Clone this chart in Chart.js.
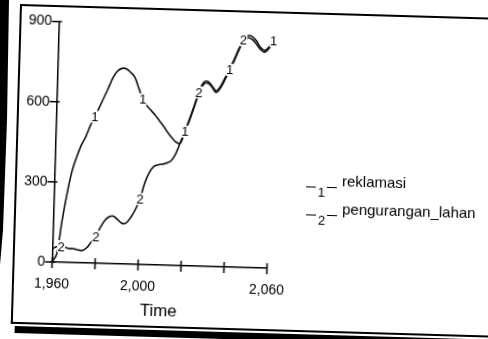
<!DOCTYPE html>
<html>
<head>
<meta charset="utf-8">
<script src="https://cdn.jsdelivr.net/npm/chart.js@4.4.1/dist/chart.umd.min.js"></script>
<style>
  html, body { margin: 0; padding: 0; background: #fff; }
  body { width: 488px; height: 339px; position: relative; overflow: hidden;
         font-family: "Liberation Sans", Arial, sans-serif; }
  #strip { position: absolute; left: 0; top: 0; width: 10px; height: 265px; background: #000;
           clip-path: polygon(1px 0, 9px 0, 7px 120px, 3px 230px, 0 265px, 0 0); }
  #frame { position: absolute; left: 20px; top: 4px; width: 480px; height: 320px;
           transform-origin: 0 0; transform: rotate(1.65deg); }
  .edge { position: absolute; background: #000; }
  #chartBox { position: absolute; left: 0; top: 0; width: 300px; height: 320px; }
  .lg { position: absolute; height: 20px; width: 200px; color: #000; }
  .lg .ln { position: absolute; top: 0; width: 10px; border-top: 1.3px solid #000; }
  .lg .num { position: absolute; top: -1px; font-size: 13px; line-height: 13px; }
  .lg .txt { position: absolute; left: 36px; top: -14px; font-size: 15px; line-height: 15px; white-space: nowrap; }
</style>
</head>
<body>
<div id="strip"></div>
<div id="frame">
  <div class="edge" style="left:0;top:0;width:480px;height:1.8px"></div>
  <div class="edge" style="left:0;top:0;width:1.8px;height:320px"></div>
  <div class="edge" style="left:0;top:318px;width:480px;height:1.8px"></div>
  <div class="edge" style="left:4px;top:322px;width:480px;height:7px"></div>
  <div id="chartBox"><canvas id="lineChart" width="300" height="320"></canvas></div>
  <div class="lg" style="left:291px;top:174px">
    <span class="ln" style="left:0"></span><span class="num" style="left:12px">1</span><span class="ln" style="left:21px"></span>
    <span class="txt">reklamasi</span>
  </div>
  <div class="lg" style="left:292px;top:202px">
    <span class="ln" style="left:0"></span><span class="num" style="left:12px">2</span><span class="ln" style="left:21px"></span>
    <span class="txt">pengurangan_lahan</span>
  </div>
</div>

<script>
// years on the time axis
const years = [1960, 1962, 1964, 1966, 1968, 1970, 1972, 1974, 1976, 1978,
               1980, 1982, 1984, 1986, 1988, 1990, 1992, 1994, 1996, 1998,
               2000, 2002, 2004, 2006, 2008, 2010, 2012, 2014, 2016, 2018,
               2020, 2022, 2024, 2026, 2028, 2030, 2032, 2034, 2036, 2038,
               2040, 2042, 2044, 2046, 2048, 2050, 2052, 2054, 2056, 2058, 2060];

// series 1
const reklamasi = [0, 30, 150, 255, 340, 395, 440, 472, 515, 548,
                   585, 622, 660, 698, 722, 732, 731, 718, 700, 660,
                   618, 595, 578, 560, 540, 520, 498, 478, 462, 458,
                   502, 545, 595, 645, 680, 686, 672, 652, 670, 702,
                   738, 772, 812, 845, 860, 855, 838, 818, 808, 822, 850];

// series 2
const penguranganLahan = [50, 58, 60, 56, 52, 52, 48, 47, 58, 80,
                          100, 135, 162, 176, 178, 165, 152, 155, 176, 205,
                          245, 305, 345, 368, 375, 378, 383, 392, 418, 460,
                          505, 550, 600, 650, 688, 692, 676, 658, 676, 708,
                          742, 778, 818, 850, 868, 866, 850, 826, 815, 828, 855];

// where the series numbers sit on the lines
const markers1 = [1978, 2000, 2020, 2040, 2060];
const markers2 = [1964, 1980, 2000, 2026, 2046];

const xTickValues = [1960, 1980, 2000, 2020, 2040, 2060];
const xTickLabels = ['1,960', '', '2,000', '', '', '2,060'];
const yTickValues = [0, 300, 600, 900];

const font = '"Liberation Sans", Arial, sans-serif';

const toPoints = vals => years.map((t, i) => ({ x: t, y: vals[i] }));

// ticks that cross the axis line
const crossTicks = {
  id: 'crossTicks',
  afterDatasetsDraw(chart) {
    const { ctx, scales: { x, y } } = chart;
    ctx.save();
    ctx.strokeStyle = '#000';
    ctx.lineWidth = 1.5;
    const y0 = y.getPixelForValue(0);
    xTickValues.forEach(v => {
      const px = x.getPixelForValue(v);
      ctx.beginPath(); ctx.moveTo(px, y0 - 5); ctx.lineTo(px, y0 + 6); ctx.stroke();
    });
    const x0 = x.left;
    yTickValues.forEach(v => {
      const py = y.getPixelForValue(v);
      ctx.beginPath(); ctx.moveTo(x0 - 7, py); ctx.lineTo(x0 + 3, py); ctx.stroke();
    });
    ctx.restore();
  }
};

// the "1" / "2" numbers drawn on the curves
const lineNumbers = {
  id: 'lineNumbers',
  afterDatasetsDraw(chart) {
    const { ctx } = chart;
    const sets = [markers1, markers2];
    ctx.save();
    ctx.font = '13px ' + font;
    ctx.textAlign = 'center';
    ctx.textBaseline = 'middle';
    sets.forEach((marks, i) => {
      const meta = chart.getDatasetMeta(i);
      marks.forEach(t => {
        const pt = meta.data[years.indexOf(t)];
        ctx.fillStyle = '#fff';
        ctx.fillRect(pt.x - 4, pt.y - 6, 8, 12);
        ctx.fillStyle = '#000';
        ctx.fillText(String(i + 1), pt.x, pt.y + 1);
      });
    });
    ctx.restore();
  }
};

const ctx = document.getElementById('lineChart').getContext('2d');

new Chart(ctx, {
  type: 'line',
  data: {
    datasets: [
      {
        label: 'reklamasi',
        data: toPoints(reklamasi),
        borderColor: '#111',
        borderWidth: 1.6,
        pointRadius: 0,
        tension: 0.35,
        fill: false
      },
      {
        label: 'pengurangan_lahan',
        data: toPoints(penguranganLahan),
        borderColor: '#111',
        borderWidth: 1.6,
        pointRadius: 0,
        tension: 0.35,
        fill: false
      }
    ]
  },
  options: {
    responsive: false,
    animation: false,
    layout: { padding: { left: 0, right: 45.5, top: 16.5, bottom: 2 } },
    plugins: { legend: { display: false }, tooltip: { enabled: false } },
    scales: {
      x: {
        type: 'linear',
        min: 1960,
        max: 2060,
        afterBuildTicks: s => { s.ticks = xTickValues.map(v => ({ value: v })); },
        afterFit: s => { s.height = 61; },
        grid: { display: false, drawTicks: false },
        border: { color: '#000', width: 1.5 },
        ticks: {
          autoSkip: false,
          maxRotation: 0,
          padding: 14,
          color: '#000',
          font: { family: font, size: 14 },
          callback: (v, i) => xTickLabels[i]
        },
        title: { display: true, text: 'Time', color: '#000', font: { family: font, size: 17 }, padding: { top: 4, bottom: 4 } }
      },
      y: {
        min: 0,
        max: 900,
        afterBuildTicks: s => { s.ticks = yTickValues.map(v => ({ value: v })); },
        afterFit: s => { s.width = 39.5; },
        grid: { display: false, drawTicks: false },
        border: { color: '#000', width: 1.5 },
        ticks: {
          crossAlign: 'near',
          padding: 7,
          color: '#000',
          font: { family: font, size: 14 },
          callback: v => String(v)
        }
      }
    }
  },
  plugins: [crossTicks, lineNumbers]
});
</script>
</body>
</html>
